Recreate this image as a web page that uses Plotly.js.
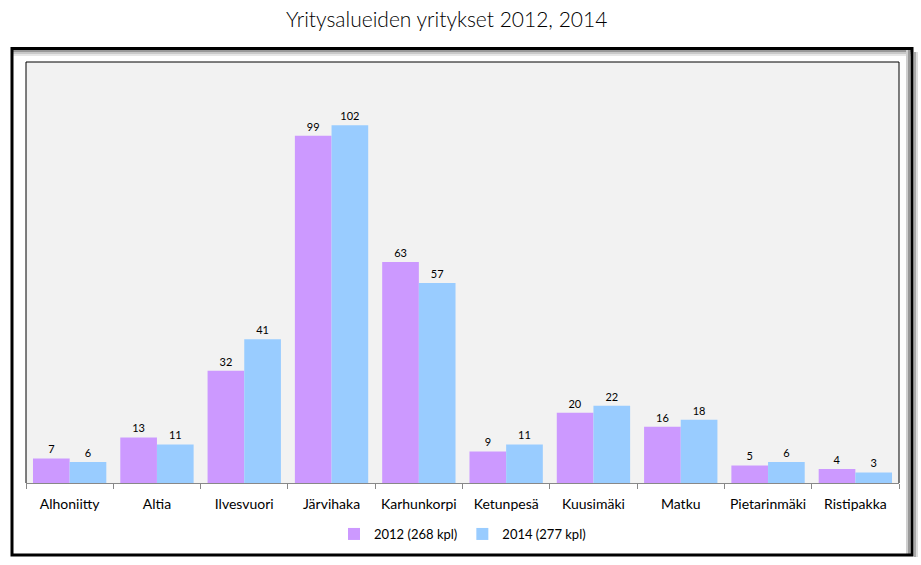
<!DOCTYPE html>
<html>
<head>
<meta charset="utf-8">
<script src="https://cdn.plot.ly/plotly-3.0.1.min.js"></script>
<style>html,body{margin:0;padding:0;background:#fff;}#chart{width:921px;height:565px;}</style>
</head>
<body>
<div id="chart"></div>
<script>
const categories = ["Alhoniitty","Altia","Ilvesvuori","Järvihaka","Karhunkorpi","Ketunpesä","Kuusimäki","Matku","Pietarinmäki","Ristipakka"];
const values2012 = [7,13,32,99,63,9,20,16,5,4];
const values2014 = [6,11,41,102,57,11,22,18,6,3];
const seriesNames = ["2012 (268 kpl)","2014 (277 kpl)"];
const chartTitle = "Yritysalueiden yritykset 2012, 2014";

const font = "Lato, 'Open Sans', sans-serif";
const traces = [
  {type:"bar", x:categories, y:values2012, name:seriesNames[0], marker:{color:"#cc99ff"},
   text:values2012.map(String), textposition:"outside", textfont:{size:11,color:"#000",family:font}, cliponaxis:false, hoverinfo:"none"},
  {type:"bar", x:categories, y:values2014, name:seriesNames[1], marker:{color:"#99ccff"},
   text:values2014.map(String), textposition:"outside", textfont:{size:11,color:"#000",family:font}, cliponaxis:false, hoverinfo:"none"}
];

// plot area px: x 26..899, y 62..483
const pw = 873, ph = 421;
function px(x){return (x-26)/pw;}
function py(y){return (483-y)/ph;}

const shapes = [
  // outer frame shadow
  {type:"line",xref:"paper",yref:"paper",x0:px(13),x1:px(911),y0:py(51),y1:py(51),line:{color:"#999",width:2}},
  {type:"line",xref:"paper",yref:"paper",x0:px(13),x1:px(911),y0:py(53),y1:py(53),line:{color:"#c8c8c8",width:2}},
  {type:"line",xref:"paper",yref:"paper",x0:px(13),x1:px(911),y0:py(55),y1:py(55),line:{color:"#e6e6e6",width:2}},
  {type:"line",xref:"paper",yref:"paper",x0:px(909),x1:px(909),y0:py(49),y1:py(554),line:{color:"#999",width:2}},
  {type:"line",xref:"paper",yref:"paper",x0:px(907),x1:px(907),y0:py(49),y1:py(554),line:{color:"#cfcfcf",width:2}},
  {type:"line",xref:"paper",yref:"paper",x0:px(915),x1:px(915),y0:py(52),y1:py(557),line:{color:"#aaa",width:2}},
  {type:"line",xref:"paper",yref:"paper",x0:px(917),x1:px(917),y0:py(52),y1:py(557),line:{color:"#ddd",width:2}},
  // outer frame
  {type:"rect",xref:"paper",yref:"paper",x0:px(12),x1:px(912),y0:py(48.5),y1:py(555),line:{color:"#000",width:3}},
  // plot border top/left/right
  {type:"line",xref:"paper",yref:"paper",x0:0,x1:1,y0:1,y1:1,line:{color:"#000",width:1}},
  {type:"line",xref:"paper",yref:"paper",x0:0,x1:0,y0:0,y1:1,line:{color:"#000",width:1}},
  {type:"line",xref:"paper",yref:"paper",x0:1,x1:1,y0:0,y1:1,line:{color:"#000",width:1}}
];

const layout = {
  width:921, height:565,
  margin:{l:26,r:22,t:62,b:82},
  paper_bgcolor:"#ffffff",
  plot_bgcolor:"#f2f2f2",
  title:{text:chartTitle, x:0.485, xanchor:"center", y:0.965, yanchor:"middle", font:{family:font,size:21,color:"#000",weight:300}},
  barmode:"group", bargap:0.16, bargroupgap:0,
  showlegend:true,
  legend:{orientation:"h", x:0.5, xanchor:"center", y:py(534), yanchor:"middle", font:{family:font,size:13,color:"#000"}, itemwidth:30, traceorder:"normal", bgcolor:"rgba(0,0,0,0)"},
  xaxis:{type:"category", tickson:"boundaries", ticks:"outside", ticklen:5, tickcolor:"#888", showline:true, linecolor:"#888", linewidth:1,
         ticklabelstandoff:8,
         tickfont:{family:font,size:14,color:"#000"}, showgrid:false, fixedrange:true},
  yaxis:{range:[0,120], visible:false, showgrid:false, zeroline:false, fixedrange:true},
  shapes:shapes,
  font:{family:font}
};

Plotly.newPlot("chart", traces, layout, {displayModeBar:false, staticPlot:true});
</script>
</body>
</html>
